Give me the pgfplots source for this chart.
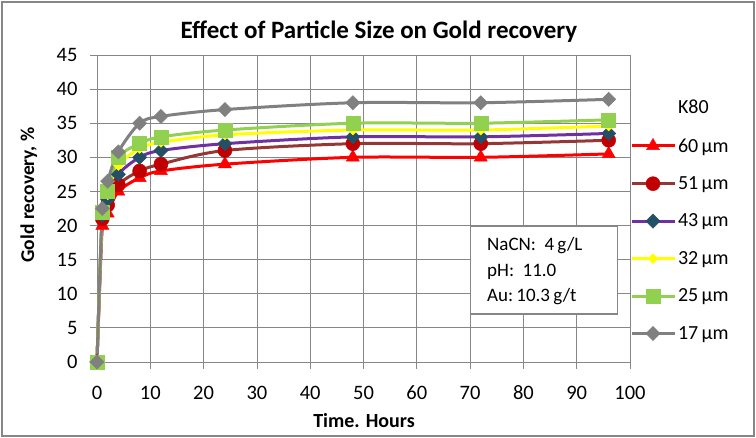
\documentclass[border=0pt]{standalone}
\usepackage{pgfplots}
\pgfplotsset{compat=1.18}
\usepackage{fontspec}
\setmainfont{Carlito}
\definecolor{cgrid}{HTML}{868686}
\definecolor{cred}{HTML}{FF0000}
\definecolor{cbrown}{HTML}{953735}
\definecolor{cbrownfill}{HTML}{C00000}
\definecolor{cpurple}{HTML}{7030A0}
\definecolor{cteal}{HTML}{254F66}
\definecolor{cyellow}{HTML}{FFFF00}
\definecolor{cgreen}{HTML}{92D050}
\definecolor{cgray}{HTML}{808080}
\begin{document}
\begin{tikzpicture}[x=1pt,y=1pt]
\useasboundingbox (0,0) rectangle (756,438);
\draw[cgrid, line width=2pt] (2,2) rectangle (754,436);
\node[font=\fontsize{25}{30}\selectfont\bfseries, anchor=base] at (379,399) {Effect of Particle Size on Gold recovery};
\node[font=\fontsize{20}{24}\selectfont\bfseries, anchor=base] at (364,10) {Time. Hours};
\node[font=\fontsize{19.5}{24}\selectfont\bfseries, rotate=90, anchor=base] at (34,243) {Gold recovery, \%};
\begin{axis}[at={(97pt,76pt)}, anchor=south west, scale only axis,
  width=533pt, height=307pt,
  xmin=0, xmax=100, ymin=0, ymax=45,
  xtick distance=10, ytick distance=5,
  grid=major, grid style={cgrid, line width=0.8pt},
  axis line style={cgrid, line width=0.8pt},
  tick style={cgrid, line width=0.8pt}, tick align=outside, major tick length=7pt,
  xtick pos=bottom, ytick pos=left,
  ticklabel style={font=\fontsize{20.5}{24}\selectfont},
  xticklabel style={anchor=center, yshift=-24pt},
  yticklabel style={anchor=east, xshift=-9pt},
  /pgf/number format/assume math mode=true,
  clip=false,
  legend style={at={(0.994,0.866)}, anchor=north west, draw=none, fill=none,
    font=\fontsize{20}{24}\selectfont, row sep=19pt},
  legend cell align=left,
  legend image code/.code={\draw[mark repeat=2, mark phase=2, #1] plot coordinates {(0pt,0pt) (21.5pt,0pt) (43pt,0pt)};},
  every axis plot/.append style={line width=3pt, smooth, tension=0.5},
]
\addlegendimage{empty legend}
\addlegendentry{K80}
\addplot[cred, mark=triangle*, mark size=7.5pt, mark options={fill=cred, draw=cred, line width=0.5pt}]
coordinates {(0,0) (1,20) (2,21.8) (4,25) (8,27) (12,28) (24,29) (48,30) (72,30) (96,30.5)};
\addlegendentry{60\,µm}
\addplot[cbrown, mark=*, mark size=7pt, mark options={fill=cbrownfill, draw=cbrownfill, line width=0.5pt}]
coordinates {(0,0) (1,21) (2,23) (4,26) (8,28) (12,29) (24,31) (48,32) (72,32) (96,32.5)};
\addlegendentry{51\,µm}
\addplot[cpurple, mark=square*, mark size=5pt, mark options={rotate=45, fill=cteal, draw=cteal, line width=0.5pt}]
coordinates {(0,0) (1,21.5) (2,23.8) (4,27.5) (8,30) (12,31) (24,32) (48,33) (72,33) (96,33.5)};
\addlegendentry{43\,µm}
\addplot[cyellow, mark=square*, mark size=3.5pt, mark options={rotate=45, fill=cyellow, draw=cyellow, line width=0.5pt}]
coordinates {(0,0) (1,21.8) (2,24.5) (4,28.8) (8,31.3) (12,32.2) (24,33.3) (48,34) (72,34) (96,34.6)};
\addlegendentry{32\,µm}
\addplot[cgreen, mark=square*, mark size=7pt, mark options={fill=cgreen, draw=cgreen, line width=0.5pt}]
coordinates {(0,0) (1,22) (2,25) (4,30) (8,32) (12,33) (24,34) (48,35) (72,35) (96,35.5)};
\addlegendentry{25\,µm}
\addplot[cgray, mark=square*, mark size=5pt, mark options={rotate=45, fill=cgray, draw=cgray, line width=0.5pt}]
coordinates {(0,0) (1,22.5) (2,26.5) (4,30.8) (8,35) (12,36) (24,37) (48,38) (72,38) (96,38.5)};
\addlegendentry{17\,µm}
\node[draw=cgrid, line width=1.5pt, fill=white, anchor=north west,
  minimum width=147pt, minimum height=88pt, inner sep=0pt] at (axis cs:69.98,20.08) {};
\node[font=\fontsize{19}{24}\selectfont, anchor=base west, inner sep=0pt] at (axis cs:73.17,16.27) {NaCN:\ \ 4\,g/L};
\node[font=\fontsize{19}{24}\selectfont, anchor=base west, inner sep=0pt] at (axis cs:73.17,12.60) {pH:\ \ 11.0};
\node[font=\fontsize{19}{24}\selectfont, anchor=base west, inner sep=0pt] at (axis cs:73.17,8.94) {Au:\,10.3\,g/t};
\end{axis}
\end{tikzpicture}
\end{document}
